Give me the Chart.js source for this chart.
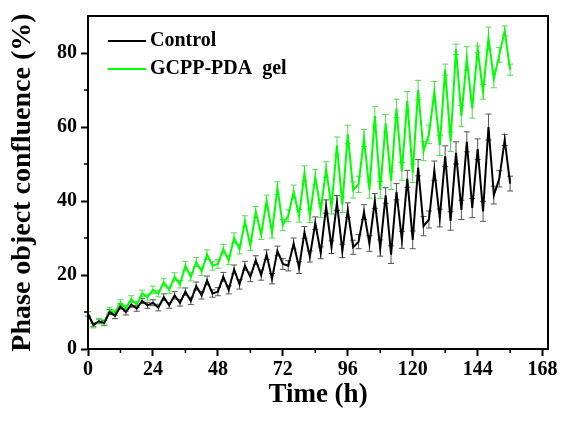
<!DOCTYPE html>
<html>
<head>
<meta charset="utf-8">
<script src="https://cdn.jsdelivr.net/npm/chart.js@4/dist/chart.umd.min.js"></script>
<style>
  html, body { margin: 0; padding: 0; background: #fff; }
  #wrap { width: 563px; height: 421px; }
</style>
</head>
<body>
<div id="wrap"><canvas id="chart" width="563" height="421"></canvas></div>
<script>
// Time points (h)
const hours = [0, 2, 4, 6, 8, 10, 12, 14, 16, 18, 20, 22, 24, 26, 28, 30, 32, 34, 36, 38,
  40, 42, 44, 46, 48, 50, 52, 54, 56, 58, 60, 62, 64, 66, 68, 70, 72, 74, 76, 78,
  80, 82, 84, 86, 88, 90, 92, 94, 96, 98, 100, 102, 104, 106, 108, 110, 112, 114, 116, 118,
  120, 122, 124, 126, 128, 130, 132, 134, 136, 138, 140, 142, 144, 146, 148, 150, 152, 154, 156];

// Control
const controlMean = [9.5, 6.5, 7.5, 7, 10, 9, 11.5, 10, 12, 11, 13, 11.8, 12.5, 11.2, 14, 11.8, 14.5, 12.5, 15.5, 13,
  17, 14.5, 18.5, 15, 15.5, 19.5, 16, 21.5, 17.5, 22.5, 19.5, 24, 20, 25.5, 19, 26.5, 23, 22.5, 28.5, 22,
  31.5, 25, 34, 26, 38.5, 27.5, 39.5, 26.5, 37.5, 27.5, 29, 37, 28.5, 40, 27.3, 41.5, 25.5, 42.5, 29.5, 46,
  29.5, 49, 33.2, 35, 48.2, 35.4, 52.1, 34.6, 53, 37.6, 56, 38.1, 54, 37.2, 60, 41.6, 46, 56.5, 44.7];
const controlErr = [0.6, 0.5, 0.6, 0.7, 0.7, 0.8, 0.7, 0.8, 0.7, 0.8, 0.7, 0.8, 0.8, 0.9, 0.9, 0.8, 1.0, 0.9, 1.0, 1.0,
  1.1, 1.0, 1.2, 1.0, 1.1, 1.2, 1.1, 1.2, 1.3, 1.2, 1.3, 1.2, 1.4, 1.3, 1.4, 1.3, 1.5, 1.4, 1.5, 1.6,
  1.6, 1.5, 1.7, 1.6, 1.8, 1.7, 2.0, 1.8, 2.0, 1.9, 1.9, 2.0, 2.1, 2.0, 2.2, 2.1, 2.4, 2.2, 2.3, 2.3,
  2.4, 2.2, 2.6, 2.3, 2.6, 2.4, 2.8, 2.5, 3.0, 2.6, 2.7, 2.6, 2.8, 2.7, 3.5, 2.4, 2.2, 1.5, 2.0];

// GCPP-PDA gel
const gelMean = [9.5, 6.3, 7.5, 7.2, 10.5, 9.8, 12.5, 11, 13.5, 12, 15, 14, 16, 15, 18, 16, 19.5, 17.5, 22.5, 19.5,
  23.5, 21, 25.5, 22.5, 23, 27, 24, 30, 27, 34.5, 28, 37, 31, 40, 31.5, 43.5, 33.5, 36, 42.5, 36,
  47.5, 36, 46.5, 37.5, 48.5, 38.5, 55, 39, 58, 43, 44.5, 57, 43, 63, 43, 61, 45.5, 65, 48, 67,
  47.5, 70, 53.5, 58, 69.5, 55, 75.5, 56, 81, 63, 78.5, 65, 81, 69.5, 84, 73, 79.5, 86, 75.5];
const gelErr = [0.6, 0.6, 0.7, 0.7, 0.8, 0.7, 0.8, 0.8, 0.9, 0.8, 0.9, 0.8, 1.0, 0.9, 1.0, 1.0, 1.1, 1.0, 1.2, 1.1,
  1.2, 1.1, 1.3, 1.2, 1.2, 1.3, 1.2, 1.4, 1.3, 1.5, 1.4, 1.5, 1.4, 1.6, 1.5, 1.7, 1.5, 1.6, 1.8, 1.7,
  2.0, 1.8, 2.0, 1.9, 2.1, 2.0, 2.3, 2.1, 2.5, 2.2, 2.2, 2.3, 2.2, 2.5, 2.3, 2.4, 2.4, 2.5, 2.4, 2.6,
  2.5, 2.6, 2.6, 2.5, 2.8, 2.7, 1.5, 2.6, 1.4, 2.8, 3.2, 2.6, 0.9, 2.0, 3.0, 2.4, 2.0, 1.3, 1.5];

const xTicks = [0, 24, 48, 72, 96, 120, 144, 168];
const yTicks = [0, 20, 40, 60, 80];
const xMinorTicks = [12, 36, 60, 84, 108, 132, 156];
const yMinorTicks = [10, 30, 50, 70];

const FONT = '"Liberation Serif", "Times New Roman", serif';

function toPoints(values) {
  return values.map((v, i) => ({ x: hours[i], y: v }));
}

// Error bars under each line, drawn through the chart scales
const errorBars = {
  id: 'errorBars',
  beforeDatasetsDraw(chart) {
    const ctx = chart.ctx;
    const ys = chart.scales.y;
    const xs = chart.scales.x;
    chart.data.datasets.forEach((ds, di) => {
      const errs = ds.errors;
      ctx.save();
      ctx.strokeStyle = ds.errorColor;
      ctx.lineWidth = 1;
      ds.data.forEach((p, i) => {
        const x = xs.getPixelForValue(p.x);
        const top = ys.getPixelForValue(p.y + errs[i]);
        const bot = ys.getPixelForValue(p.y - errs[i]);
        ctx.beginPath();
        ctx.moveTo(x, top); ctx.lineTo(x, bot);
        ctx.moveTo(x - 3, top); ctx.lineTo(x + 3, top);
        ctx.moveTo(x - 3, bot); ctx.lineTo(x + 3, bot);
        ctx.stroke();
      });
      ctx.restore();
    });
  }
};

// Frame, minor ticks and legend
const frame = {
  id: 'frame',
  afterDraw(chart) {
    const ctx = chart.ctx;
    const a = chart.chartArea;
    const xs = chart.scales.x;
    const ys = chart.scales.y;
    ctx.save();
    ctx.strokeStyle = '#000';
    ctx.lineWidth = 2;
    ctx.strokeRect(a.left, a.top, a.right - a.left, a.bottom - a.top);

    ctx.lineWidth = 1.5;
    ctx.beginPath();
    xMinorTicks.forEach(t => {
      const x = xs.getPixelForValue(t);
      ctx.moveTo(x, a.bottom); ctx.lineTo(x, a.bottom + 4);
    });
    yMinorTicks.forEach(t => {
      const y = ys.getPixelForValue(t);
      ctx.moveTo(a.left, y); ctx.lineTo(a.left - 4, y);
    });
    ctx.stroke();

    // legend
    const items = chart.data.datasets;
    ctx.font = 'bold 20px ' + FONT;
    ctx.textBaseline = 'middle';
    ctx.textAlign = 'left';
    items.forEach((ds, i) => {
      const y = 41 + i * 28;
      ctx.strokeStyle = ds.borderColor;
      ctx.lineWidth = 2;
      ctx.beginPath();
      ctx.moveTo(108, y); ctx.lineTo(146, y);
      ctx.stroke();
      ctx.fillStyle = '#000';
      ctx.fillText(ds.label, 150, y);
    });
    ctx.restore();
  }
};

new Chart(document.getElementById('chart'), {
  type: 'line',
  data: {
    datasets: [
      {
        label: 'Control',
        data: toPoints(controlMean),
        errors: controlErr,
        errorColor: '#555555',
        borderColor: '#000000',
        borderWidth: 2,
        pointRadius: 0,
        tension: 0
      },
      {
        label: 'GCPP-PDA  gel',
        data: toPoints(gelMean),
        errors: gelErr,
        errorColor: '#4ee04e',
        borderColor: '#00ff00',
        borderWidth: 2,
        pointRadius: 0,
        tension: 0
      }
    ]
  },
  options: {
    responsive: false,
    animation: false,
    layout: { padding: { top: 7, right: 15, left: 0, bottom: 0 } },
    plugins: {
      legend: { display: false },
      tooltip: { enabled: false }
    },
    scales: {
      x: {
        type: 'linear',
        min: 0,
        max: 170,
        afterFit(scale) { scale.height = 72; },
        afterBuildTicks(scale) { scale.ticks = xTicks.map(v => ({ value: v })); },
        grid: { drawOnChartArea: false, tickLength: 7, tickColor: '#000', tickWidth: 2 },
        border: { color: '#000', width: 2 },
        ticks: {
          color: '#000',
          padding: 2,
          maxRotation: 0,
          font: { family: FONT, size: 20, weight: 'bold' }
        },
        title: {
          display: true,
          text: 'Time (h)',
          color: '#000',
          padding: { top: 0, bottom: 10 },
          font: { family: FONT, size: 27, weight: 'bold' }
        }
      },
      y: {
        min: 0,
        max: 90,
        afterFit(scale) { scale.width = 88; },
        afterBuildTicks(scale) { scale.ticks = yTicks.map(v => ({ value: v })); },
        grid: { drawOnChartArea: false, tickLength: 7, tickColor: '#000', tickWidth: 2 },
        border: { color: '#000', width: 2 },
        ticks: {
          color: '#000',
          padding: 4,
          font: { family: FONT, size: 20, weight: 'bold' }
        },
        title: {
          display: true,
          text: 'Phase object confluence (%)',
          color: '#000',
          padding: { top: 6, bottom: 0 },
          font: { family: FONT, size: 28, weight: 'bold' }
        }
      }
    }
  },
  plugins: [errorBars, frame]
});
</script>
</body>
</html>
